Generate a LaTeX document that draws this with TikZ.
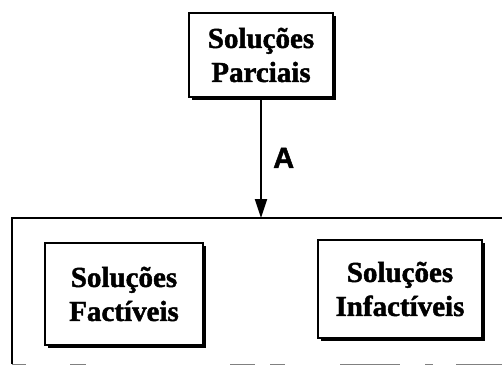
\documentclass[tikz,border=0pt]{standalone}
\usepackage{fontspec}
\setmainfont{Liberation Serif}
\newfontfamily\boxfont{Liberation Serif Bold}[FakeBold=1.5]
\newfontfamily\labelfont{Liberation Sans Bold}[FakeBold=1.5]
\usetikzlibrary{arrows.meta}
\tikzset{
  solbox/.style={draw, line width=1.7pt, fill=white, align=center,
    font=\boxfont\fontsize{29}{34}\selectfont, inner sep=0pt,
    minimum width=#1},
  shadowed/.style={preaction={fill=black, transform canvas={xshift=2.8pt, yshift=-2.8pt}}},
  conn/.style={line width=1.8pt, -{Triangle[length=19pt, width=12pt]}},
  frame/.style={line width=1.7pt},
}
\begin{document}
\begin{tikzpicture}[x=1pt,y=1pt]
\useasboundingbox (0,0) rectangle (502,-369);
% top box
\node[solbox=144pt, minimum height=84pt, shadowed] (top) at (261,-55) {\raisebox{-3pt}{Soluções}\\\raisebox{-3pt}{Parciais}};
% big frame
\coordinate (bigtl) at (12,-218);
\coordinate (bigtr) at (502,-218);
\coordinate (bigbl) at (12,-364);
\coordinate (bigtop) at (261,-218);
\draw[frame] (bigbl) -- (bigtl) -- (bigtr);
\draw[line width=1pt, gray] (12,-364) -- (26,-364) (70,-364) -- (86,-364) (230,-364) -- (255,-364)
  (270,-364) -- (285,-364) (340,-364) -- (400,-364) (425,-364) -- (433,-364) (456,-364) -- (502,-364);
% arrow
\draw[conn] (top.south -| bigtop) -- node[right=8pt, font=\labelfont\fontsize{29}{34}\selectfont] (lblA) {A} (bigtop);
% inner boxes
\node[solbox=158pt, minimum height=102pt, shadowed] (fact) at (124,-294) {Soluções\\Factíveis};
\node[solbox=164pt, minimum height=98pt, shadowed] (infact) at (400,-289) {Soluções\\Infactíveis};
\end{tikzpicture}
\end{document}
